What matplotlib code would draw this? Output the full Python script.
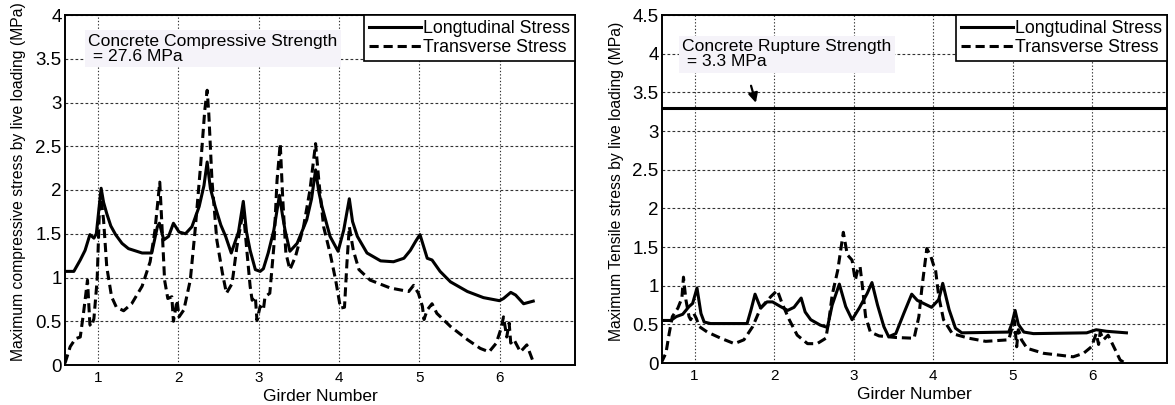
import matplotlib
matplotlib.use("Agg")
import matplotlib.pyplot as plt

plt.rcParams['font.family'] = ['Liberation Sans', 'DejaVu Sans']

# ---- Compressive stress (left panel) ----
comp_long_x = [0.59, 0.70, 0.78, 0.84, 0.90, 0.95, 0.98, 1.04, 1.07, 1.11, 1.16, 1.22, 1.30, 1.38,
               1.55, 1.67, 1.74, 1.765, 1.82, 1.88, 1.94, 2.01, 2.09, 2.17, 2.26, 2.32, 2.36,
               2.40, 2.46, 2.53, 2.59, 2.66, 2.75, 2.81, 2.85, 2.895, 2.96, 3.02, 3.06, 3.12,
               3.19, 3.26, 3.30, 3.33, 3.39, 3.48, 3.60, 3.66, 3.71, 3.75, 3.79, 3.89, 3.99,
               4.06, 4.13, 4.17, 4.23, 4.35, 4.52, 4.68, 4.81, 4.89, 4.96, 5.01, 5.10, 5.16,
               5.26, 5.39, 5.60, 5.80, 6.00, 6.05, 6.14, 6.20, 6.30, 6.42]
comp_long_y = [1.07, 1.07, 1.20, 1.31, 1.49, 1.45, 1.50, 2.02, 1.86, 1.73, 1.59, 1.49, 1.39, 1.33,
               1.28, 1.28, 1.58, 1.62, 1.43, 1.47, 1.62, 1.52, 1.50, 1.58, 1.81, 2.05, 2.32,
               2.02, 1.81, 1.60, 1.47, 1.28, 1.52, 1.87, 1.52, 1.31, 1.09, 1.07, 1.10, 1.28,
               1.54, 1.94, 1.70, 1.54, 1.30, 1.39, 1.66, 1.90, 2.23, 1.98, 1.81, 1.47, 1.30,
               1.54, 1.90, 1.64, 1.47, 1.28, 1.19, 1.18, 1.22, 1.31, 1.42, 1.49, 1.22, 1.20,
               1.07, 0.95, 0.84, 0.77, 0.735, 0.76, 0.83, 0.80, 0.70, 0.73]

comp_trans_x = [0.59, 0.655, 0.72, 0.78, 0.82, 0.87, 0.90, 0.92, 0.95, 0.99, 1.02, 1.04, 1.07,
                1.11, 1.17, 1.23, 1.32, 1.42, 1.55, 1.65, 1.71, 1.77, 1.80, 1.83, 1.87, 1.92,
                1.94, 1.985, 2.01, 2.07, 2.15, 2.21, 2.28, 2.33, 2.36, 2.38, 2.42, 2.48, 2.55,
                2.60, 2.67, 2.73, 2.81, 2.85, 2.895, 2.92, 2.96, 2.98, 3.02, 3.06, 3.08, 3.14,
                3.19, 3.23, 3.27, 3.30, 3.34, 3.39, 3.46, 3.56, 3.64, 3.71, 3.75, 3.81, 3.89,
                3.96, 4.02, 4.07, 4.10, 4.13, 4.18, 4.25, 4.39, 4.64, 4.87, 4.93, 4.99, 5.04,
                5.06, 5.10, 5.16, 5.22, 5.39, 5.60, 5.76, 5.87, 5.96, 6.02, 6.05, 6.09, 6.12,
                6.14, 6.18, 6.26, 6.34, 6.41]
comp_trans_y = [0.02, 0.21, 0.30, 0.32, 0.59, 0.97, 0.46, 0.44, 0.53, 0.97, 1.81, 1.90, 1.66,
                1.12, 0.78, 0.66, 0.62, 0.70, 0.90, 1.18, 1.54, 2.09, 1.54, 0.97, 0.76, 0.78,
                0.50, 0.74, 0.55, 0.63, 0.97, 1.54, 2.30, 2.91, 3.14, 2.88, 2.11, 1.43, 1.05,
                0.82, 0.93, 1.35, 1.77, 1.35, 0.90, 0.74, 0.78, 0.51, 0.67, 0.63, 0.78, 0.82,
                1.35, 2.11, 2.53, 1.92, 1.28, 1.09, 1.24, 1.58, 2.00, 2.53, 2.11, 1.58, 1.28,
                0.97, 0.65, 0.66, 1.16, 1.58, 1.31, 1.09, 0.97, 0.88, 0.84, 0.91, 0.82, 0.67,
                0.52, 0.63, 0.70, 0.59, 0.44, 0.29, 0.19, 0.15, 0.25, 0.42, 0.55, 0.32, 0.48,
                0.25, 0.29, 0.15, 0.23, 0.06]

# ---- Tensile stress (right panel) ----
tens_long_x = [0.58, 0.70, 0.77, 0.85, 0.93, 0.975, 1.03, 1.08, 1.12, 1.20, 1.66, 1.71, 1.76,
               1.83, 1.91, 1.98, 2.08, 2.17, 2.25, 2.34, 2.39, 2.46, 2.58, 2.67, 2.73, 2.82,
               2.90, 2.98, 3.07, 3.17, 3.23, 3.30, 3.38, 3.44, 3.53, 3.63, 3.73, 3.80, 3.90,
               3.98, 4.07, 4.12, 4.20, 4.28, 4.36, 4.95, 4.99, 5.03, 5.07, 5.14, 5.26, 5.93,
               6.05, 6.18, 6.43]
tens_long_y = [0.55, 0.55, 0.60, 0.63, 0.73, 0.77, 0.97, 0.64, 0.53, 0.51, 0.51, 0.69, 0.89,
               0.71, 0.79, 0.79, 0.73, 0.68, 0.72, 0.84, 0.66, 0.56, 0.49, 0.46, 0.75, 1.02,
               0.73, 0.56, 0.71, 0.90, 1.04, 0.75, 0.47, 0.34, 0.38, 0.64, 0.89, 0.81, 0.76,
               0.72, 0.82, 1.03, 0.69, 0.45, 0.39, 0.40, 0.51, 0.68, 0.50, 0.40, 0.38, 0.39,
               0.43, 0.41, 0.39]

tens_trans_x = [0.58, 0.64, 0.68, 0.72, 0.79, 0.84, 0.86, 0.89, 0.93, 0.95, 0.99, 1.02, 1.06,
                1.16, 1.33, 1.50, 1.62, 1.73, 1.83, 1.96, 2.04, 2.10, 2.19, 2.29, 2.42, 2.54,
                2.65, 2.69, 2.73, 2.80, 2.87, 2.92, 2.98, 3.02, 3.05, 3.08, 3.11, 3.15, 3.21,
                3.32, 3.53, 3.76, 3.82, 3.86, 3.92, 3.97, 4.01, 4.03, 4.07, 4.13, 4.24, 4.45,
                4.66, 4.95, 4.99, 5.02, 5.05, 5.07, 5.09, 5.11, 5.18, 5.39, 5.60, 5.76, 5.89,
                5.99, 6.05, 6.08, 6.10, 6.14, 6.20, 6.28, 6.35, 6.41]
tens_trans_y = [0.00, 0.13, 0.38, 0.60, 0.71, 0.84, 1.11, 0.82, 0.60, 0.56, 0.64, 0.58, 0.47,
                0.40, 0.32, 0.25, 0.30, 0.47, 0.71, 0.86, 0.94, 0.77, 0.56, 0.36, 0.25, 0.25,
                0.32, 0.56, 0.88, 1.20, 1.69, 1.40, 1.33, 1.07, 1.20, 1.25, 0.99, 0.60, 0.40,
                0.35, 0.33, 0.32, 0.60, 0.99, 1.48, 1.38, 1.25, 1.20, 0.86, 0.56, 0.38, 0.32,
                0.28, 0.30, 0.45, 0.55, 0.21, 0.43, 0.38, 0.30, 0.19, 0.125, 0.10, 0.08, 0.125,
                0.21, 0.38, 0.24, 0.40, 0.30, 0.36, 0.19, 0.04, 0.00]

rupture_strength = 3.3
x_ticks = [1, 2, 3, 4, 5, 6]
comp_yticks = [0, 0.5, 1, 1.5, 2, 2.5, 3, 3.5, 4]
tens_yticks = [0, 0.5, 1, 1.5, 2, 2.5, 3, 3.5, 4, 4.5]

DASH = (3.0, 1.6)
LW = 2.2

fig = plt.figure(figsize=(11.75, 4.05), dpi=100)
ax1 = fig.add_axes([65 / 1175, 1 - 365 / 405, 510 / 1175, 350 / 405])
ax2 = fig.add_axes([662 / 1175, 1 - 363 / 405, 505 / 1175, 348 / 405])


def style_axes(ax, yticks, ylim, ylabel):
    ax.set_xlim(0.59, 6.94)
    ax.set_ylim(*ylim)
    ax.set_xticks(x_ticks)
    ax.set_yticks(yticks)
    ax.set_yticklabels([f"{v:g}" for v in yticks])
    ax.tick_params(axis='both', length=0, colors='black')
    ax.tick_params(axis='x', labelsize=11, pad=4.5)
    ax.tick_params(axis='y', labelsize=13.5, pad=2.5)
    ax.xaxis.grid(True, color='#333333', linewidth=0.8, linestyle=(0, (1.2, 1.8)))
    ax.yaxis.grid(True, color='#333333', linewidth=0.8, linestyle=(0, (2.5, 2.0)))
    for s in ax.spines.values():
        s.set_linewidth(1.4)
        s.set_color('black')
    ax.set_xlabel("Girder Number", fontsize=12.5)
    ax.set_ylabel(ylabel, fontsize=11.3)
    ax.xaxis.set_label_coords(0.5, -0.068)
    ax.yaxis.set_label_coords(-0.076, 0.523)


# Left: compressive stress
ax1.plot(comp_long_x, comp_long_y, color='black', lw=LW, label='Longtudinal Stress')
ax1.plot(comp_trans_x, comp_trans_y, color='black', lw=LW, dashes=DASH, label='Transverse Stress')
style_axes(ax1, comp_yticks, (0, 4), "Maximum compressive stress by live loading (MPa)")
ax1.text(0.046, 0.947, "Concrete Compressive Strength\n = 27.6 MPa", transform=ax1.transAxes,
         ha='left', va='top', fontsize=12.6, linespacing=1.0, zorder=3,
         bbox=dict(boxstyle='square,pad=0.2', fc='#f5f3f9', ec='none'))

# Right: tensile stress
ax2.plot(tens_long_x, tens_long_y, color='black', lw=LW, label='Longtudinal Stress')
ax2.plot(tens_trans_x, tens_trans_y, color='black', lw=LW, dashes=DASH, label='Transverse Stress')
ax2.axhline(rupture_strength, color='black', lw=2.2, zorder=2.5)
style_axes(ax2, tens_yticks, (0, 4.5), "Maximum Tensile stress by live loading (MPa)")
ax2.text(0.040, 0.930, "Concrete Rupture Strength\n = 3.3 MPa", transform=ax2.transAxes,
         ha='left', va='top', fontsize=12.6, linespacing=1.0, zorder=3,
         bbox=dict(boxstyle='square,pad=0.2', fc='#f5f3f9', ec='none'))
ax2.annotate("", xy=(1.78, rupture_strength + 0.03), xytext=(1.70, 3.62),
             arrowprops=dict(arrowstyle='-|>', color='black', lw=1.6, mutation_scale=14),
             zorder=4)

for ax in (ax1, ax2):
    leg = ax.legend(loc='upper right', borderaxespad=0, fancybox=False, framealpha=1,
                    edgecolor='black', fontsize=12.8, handlelength=2.9, handletextpad=0.12,
                    borderpad=0.28, labelspacing=0.12)
    leg.get_frame().set_linewidth(1.2)

fig.savefig("out.png", dpi=100)
